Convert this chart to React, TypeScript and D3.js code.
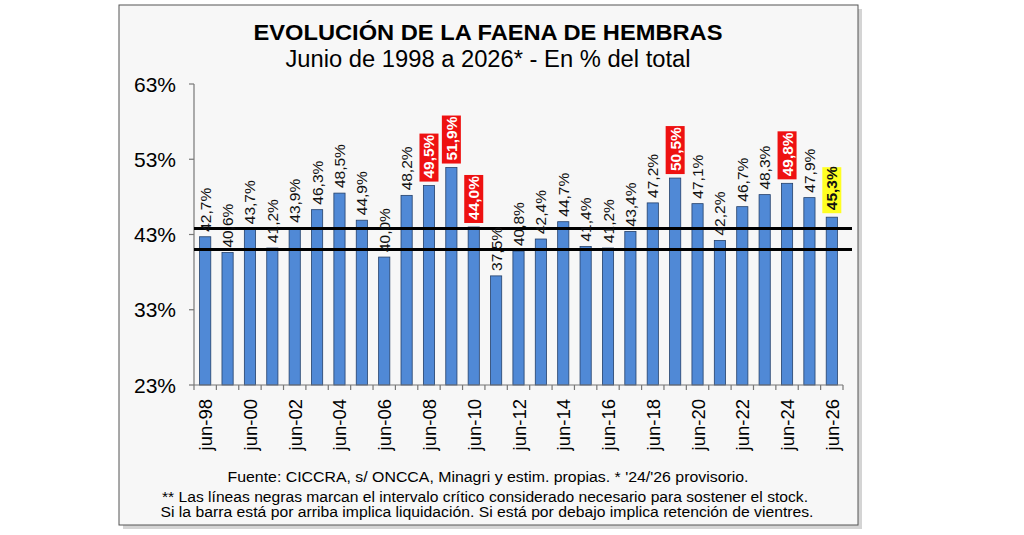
import * as d3 from "d3";

// Faena de hembras, % del total (junio de cada año)
const years = [
  "jun-98", "jun-99", "jun-00", "jun-01", "jun-02", "jun-03", "jun-04", "jun-05", "jun-06", "jun-07",
  "jun-08", "jun-09", "jun-10", "jun-11", "jun-12", "jun-13", "jun-14", "jun-15", "jun-16", "jun-17",
  "jun-18", "jun-19", "jun-20", "jun-21", "jun-22", "jun-23", "jun-24", "jun-25", "jun-26",
];
const values = [
  42.7, 40.6, 43.7, 41.2, 43.9, 46.3, 48.5, 44.9, 40.0, 48.2,
  49.5, 51.9, 44.0, 37.5, 40.8, 42.4, 44.7, 41.4, 41.2, 43.4,
  47.2, 50.5, 47.1, 42.2, 46.7, 48.3, 49.8, 47.9, 45.3,
];
const redYears = ["jun-08", "jun-09", "jun-10", "jun-19", "jun-24"];
const yellowYears = ["jun-26"];
const criticalLines = [43.8, 41.0];
const yTicks = [23, 33, 43, 53, 63];

const W = 1024;
const H = 535;
const plot = { left: 194, right: 843, top: 84, bottom: 385 };
const font = "Arial, 'Liberation Sans', sans-serif";
const fmt = (v: number) => v.toFixed(1).replace(".", ",") + "%";

export default function App() {
  const x = d3.scaleBand<string>().domain(years).range([plot.left, plot.right]).paddingInner(0.5).paddingOuter(0.25);
  const y = d3.scaleLinear().domain([23, 63]).range([plot.bottom, plot.top]);
  const bandEdges = d3.range(years.length + 1).map(i => plot.left + (plot.right - plot.left) * i / years.length);

  return (
    <svg width={W} height={H} style={{ position: "absolute", left: 0, top: 0, background: "#fff" }}>
      {/* frame with shadow */}
      <rect x={123} y={9} width={739} height={520} fill="#b8b8b8" opacity={0.6} />
      <rect x={119} y={5} width={739} height={520} fill="#f7f7f7" stroke="#555" strokeWidth={1} />

      <text x={488} y={40} textAnchor="middle" fontFamily={font} fontWeight="bold" fontSize={22.5}
        textLength={469} lengthAdjust="spacingAndGlyphs">
        EVOLUCIÓN DE LA FAENA DE HEMBRAS
      </text>
      <text x={488} y={67} textAnchor="middle" fontFamily={font} fontSize={23.5}
        textLength={405} lengthAdjust="spacingAndGlyphs">
        Junio de 1998 a 2026* - En % del total
      </text>

      {/* y axis */}
      <line x1={plot.left} x2={plot.left} y1={plot.top} y2={plot.bottom} stroke="#777" strokeWidth={1.2} />
      {yTicks.map(t => (
        <g key={t}>
          <line x1={plot.left - 5} x2={plot.left} y1={y(t)} y2={y(t)} stroke="#777" strokeWidth={1.2} />
          <text x={176} y={y(t) + 7.5} textAnchor="end" fontFamily={font} fontSize={21}>{t}%</text>
        </g>
      ))}

      {/* bars */}
      {years.map((yr, i) => (
        <rect key={yr} x={x(yr)} y={y(values[i])} width={x.bandwidth()} height={plot.bottom - y(values[i])}
          fill="#5089d6" stroke="#24406a" strokeWidth={0.8} />
      ))}

      {/* critical interval lines */}
      {criticalLines.map(v => (
        <line key={v} x1={plot.left} x2={852} y1={y(v)} y2={y(v)} stroke="#000" strokeWidth={3} />
      ))}

      {/* bar labels */}
      {years.map((yr, i) => {
        const cx = (x(yr) ?? 0) + x.bandwidth() / 2;
        const top = y(values[i]);
        const red = redYears.includes(yr);
        const yellow = yellowYears.includes(yr);
        const hl = red || yellow;
        const ty = top - (hl ? 7 : 5);
        return (
          <g key={yr} transform={`translate(${cx},${ty}) rotate(-90)`}>
            {hl && <rect x={-3} y={-9.5} width={red ? 48 : 46} height={19} fill={red ? "#ee1111" : "#ffff22"} />}
            <text x={0} y={5.5} fontFamily={font} fontSize={15.5} fontWeight={hl ? "bold" : "normal"}
              fill={red ? "#fff" : "#111"}>{fmt(values[i])}</text>
          </g>
        );
      })}

      {/* x axis */}
      <line x1={plot.left} x2={plot.right} y1={plot.bottom} y2={plot.bottom} stroke="#777" strokeWidth={1.2} />
      {bandEdges.map((e, i) => (
        <line key={i} x1={e} x2={e} y1={plot.bottom} y2={plot.bottom + 5} stroke="#777" strokeWidth={1.2} />
      ))}
      {years.map((yr, i) => i % 2 === 0 && (
        <text key={yr} transform={`translate(${(x(yr) ?? 0) + x.bandwidth() / 2 + 7},${plot.bottom + 14}) rotate(-90)`}
          textAnchor="end" fontFamily={font} fontSize={18.5}>{yr}</text>
      ))}

      {/* notes */}
      <text x={488} y={482} textAnchor="middle" fontFamily={font} fontSize={15.5}
        textLength={521} lengthAdjust="spacingAndGlyphs">
        Fuente: CICCRA, s/ ONCCA, Minagri y estim. propias. * '24/'26  provisorio.
      </text>
      <text x={485} y={502} textAnchor="middle" fontFamily={font} fontSize={15.5}
        textLength={646} lengthAdjust="spacingAndGlyphs">
        ** Las líneas negras marcan el intervalo crítico considerado necesario para sostener el stock.
      </text>
      <text x={487} y={517} textAnchor="middle" fontFamily={font} fontSize={15.5}
        textLength={653} lengthAdjust="spacingAndGlyphs">
        Si la barra está por arriba implica liquidación. Si está por debajo implica retención de vientres.
      </text>
    </svg>
  );
}
